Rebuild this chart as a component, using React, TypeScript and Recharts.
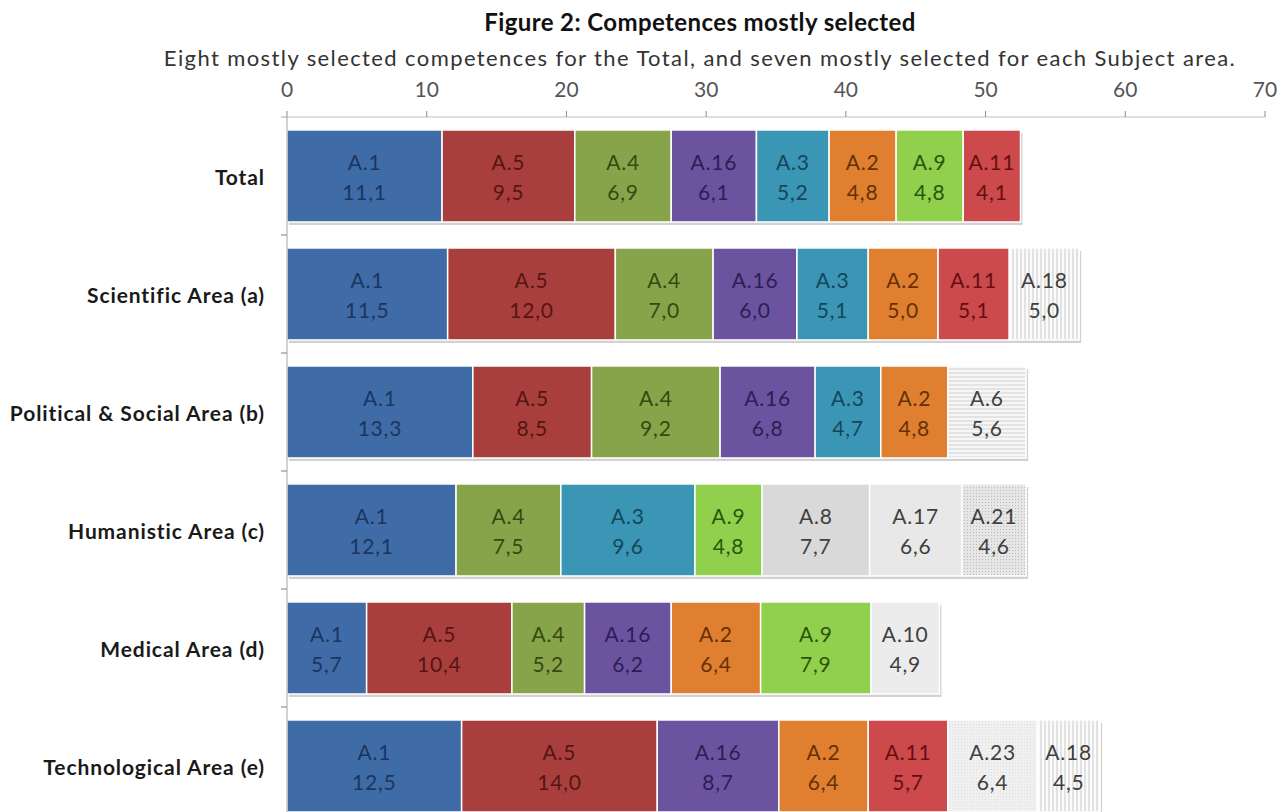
import { BarChart, Bar, XAxis, YAxis, Cell, LabelList } from 'recharts'

const categories = [
  'Total',
  'Scientific Area (a)',
  'Political & Social Area (b)',
  'Humanistic Area (c)',
  'Medical Area (d)',
  'Technological Area (e)',
]

const totalCodes = ['A.1', 'A.5', 'A.4', 'A.16', 'A.3', 'A.2', 'A.9', 'A.11']
const totalValues = [11.1, 9.5, 6.9, 6.1, 5.2, 4.8, 4.8, 4.1]

const scientificCodes = ['A.1', 'A.5', 'A.4', 'A.16', 'A.3', 'A.2', 'A.11', 'A.18']
const scientificValues = [11.5, 12.0, 7.0, 6.0, 5.1, 5.0, 5.1, 5.0]

const politicalCodes = ['A.1', 'A.5', 'A.4', 'A.16', 'A.3', 'A.2', 'A.6']
const politicalValues = [13.3, 8.5, 9.2, 6.8, 4.7, 4.8, 5.6]

const humanisticCodes = ['A.1', 'A.4', 'A.3', 'A.9', 'A.8', 'A.17', 'A.21']
const humanisticValues = [12.1, 7.5, 9.6, 4.8, 7.7, 6.6, 4.6]

const medicalCodes = ['A.1', 'A.5', 'A.4', 'A.16', 'A.2', 'A.9', 'A.10']
const medicalValues = [5.7, 10.4, 5.2, 6.2, 6.4, 7.9, 4.9]

const technologicalCodes = ['A.1', 'A.5', 'A.16', 'A.2', 'A.11', 'A.23', 'A.18']
const technologicalValues = [12.5, 14.0, 8.7, 6.4, 5.7, 6.4, 4.5]

const xTicks = [0, 10, 20, 30, 40, 50, 60, 70]

const rowCodes = [totalCodes, scientificCodes, politicalCodes, humanisticCodes, medicalCodes, technologicalCodes]
const rowValues = [totalValues, scientificValues, politicalValues, humanisticValues, medicalValues, technologicalValues]

// fill / label colour per competence
const styles: Record<string, { fill: string; text: string }> = {
  'A.1': { fill: '#3f6ca6', text: '#1c3560' },
  'A.5': { fill: '#a93f3d', text: '#561512' },
  'A.4': { fill: '#88a44b', text: '#36490f' },
  'A.16': { fill: '#6c53a0', text: '#2c1e55' },
  'A.3': { fill: '#3a96b4', text: '#15465a' },
  'A.2': { fill: '#e07f30', text: '#643106' },
  'A.9': { fill: '#90d04c', text: '#2b550c' },
  'A.11': { fill: '#cc494c', text: '#650f12' },
  'A.18': { fill: 'url(#vlines)', text: '#404040' },
  'A.6': { fill: 'url(#hlines)', text: '#404040' },
  'A.8': { fill: '#d9d9d9', text: '#404040' },
  'A.17': { fill: '#e8e8e8', text: '#404040' },
  'A.21': { fill: 'url(#dots)', text: '#404040' },
  'A.10': { fill: '#ececec', text: '#404040' },
  'A.23': { fill: 'url(#softdots)', text: '#404040' },
}

const SERIES = 8
const BAND = 118

const data = categories.map((name, i) => {
  const row: Record<string, any> = { name }
  for (let s = 0; s < SERIES; s++) row['p' + s] = rowValues[i][s] ?? null
  return row
})

const font = 'Lato, "Open Sans", sans-serif'

function SegmentShape(props: any) {
  const { x, y, width, height, fill } = props
  if (!width || width <= 0) return null
  return (
    <g>
      <rect x={x + 2} y={y + 3} width={width} height={height} fill="#000" opacity={0.18} />
      <rect x={x} y={y} width={width} height={height} fill={fill} stroke="#fff" strokeWidth={1.5} />
    </g>
  )
}

const makeLabel = (s: number) => (p: any) => {
  const { x, y, width, height, index, value } = p
  if (value == null || !width) return null
  const code = rowCodes[index][s]
  const cx = x + width / 2
  const cy = y + height / 2
  const color = styles[code].text
  return (
    <g>
      <text x={cx} y={cy - 14} textAnchor="middle" dominantBaseline="central" fill={color} fontSize={21} letterSpacing={0.8} fontFamily={font}>
        {code}
      </text>
      <text x={cx} y={cy + 16} textAnchor="middle" dominantBaseline="central" fill={color} fontSize={21} letterSpacing={0.8} fontFamily={font}>
        {Number(value).toFixed(1).replace('.', ',')}
      </text>
    </g>
  )
}

function CategoryTick(props: any) {
  const { x, y, payload } = props
  const ax = x + 22
  return (
    <g>
      <text x={x} y={y} textAnchor="end" dominantBaseline="central" fill="#1a1a1a" fontSize={21} letterSpacing={0.9} fontWeight={700} fontFamily={font}>
        {payload.value}
      </text>
      <line x1={ax - 6} x2={ax} y1={y - BAND / 2} y2={y - BAND / 2} stroke="#a6a6a6" />
      <line x1={ax - 6} x2={ax} y1={y + BAND / 2} y2={y + BAND / 2} stroke="#a6a6a6" />
    </g>
  )
}

export default function App() {
  return (
    <div style={{ position: 'absolute', left: 0, top: 0, width: 1281, height: 812, overflow: 'hidden', background: '#fff' }}>
      <svg width={0} height={0} style={{ position: 'absolute' }}>
        <defs>
          <pattern id="vlines" width={4} height={4} patternUnits="userSpaceOnUse">
            <rect width={4} height={4} fill="#fbfbfb" />
            <line x1={1} x2={1} y1={0} y2={4} stroke="#c9c9c9" strokeWidth={1} />
          </pattern>
          <pattern id="hlines" width={4} height={4} patternUnits="userSpaceOnUse">
            <rect width={4} height={4} fill="#f6f6f6" />
            <line x1={0} x2={4} y1={1} y2={1} stroke="#d2d2d2" strokeWidth={1} />
          </pattern>
          <pattern id="dots" width={3} height={3} patternUnits="userSpaceOnUse">
            <rect width={3} height={3} fill="#e6e6e6" />
            <rect x={1} y={1} width={1} height={1} fill="#bcbcbc" />
          </pattern>
          <pattern id="softdots" width={3} height={3} patternUnits="userSpaceOnUse">
            <rect width={3} height={3} fill="#f0f0f0" />
            <rect x={1} y={1} width={1} height={1} fill="#dedede" />
          </pattern>
        </defs>
      </svg>
      <div style={{ position: 'absolute', left: 0, width: 1400, top: 8, textAlign: 'center', fontFamily: font, fontWeight: 700, fontSize: 24, letterSpacing: 0.4, color: '#111', lineHeight: '28px' }}>
        Figure 2: Competences mostly selected
      </div>
      <div style={{ position: 'absolute', left: 0, width: 1400, top: 46, textAlign: 'center', fontFamily: font, fontSize: 22, letterSpacing: 1.4, color: '#333', lineHeight: '24px' }}>
        Eight mostly selected competences for the Total, and seven mostly selected for each Subject area.
      </div>
      <BarChart
        width={1281}
        height={830}
        data={data}
        layout="vertical"
        barCategoryGap="11%"
        margin={{ top: 57, right: 16, bottom: 5, left: 7 }}
      >
        <XAxis
          type="number"
          orientation="top"
          domain={[0, 70]}
          ticks={xTicks}
          height={60}
          tickSize={6}
          tickMargin={14}
          axisLine={{ stroke: '#c0c0c0' }}
          tickLine={{ stroke: '#8c8c8c' }}
          tick={{ fill: '#555', fontSize: 21, fontFamily: font }}
        />
        <YAxis
          type="category"
          dataKey="name"
          width={280}
          tickSize={0}
          tickMargin={22}
          axisLine={{ stroke: '#a6a6a6' }}
          tickLine={false}
          tick={<CategoryTick />}
        />
        {Array.from({ length: SERIES }, (_, s) => (
          <Bar key={s} dataKey={'p' + s} stackId="a" isAnimationActive={false} shape={<SegmentShape />}>
            {data.map((_, i) => {
              const code = rowCodes[i][s]
              return <Cell key={i} fill={code ? styles[code].fill : 'none'} />
            })}
            <LabelList dataKey={'p' + s} content={makeLabel(s)} />
          </Bar>
        ))}
      </BarChart>
    </div>
  )
}
